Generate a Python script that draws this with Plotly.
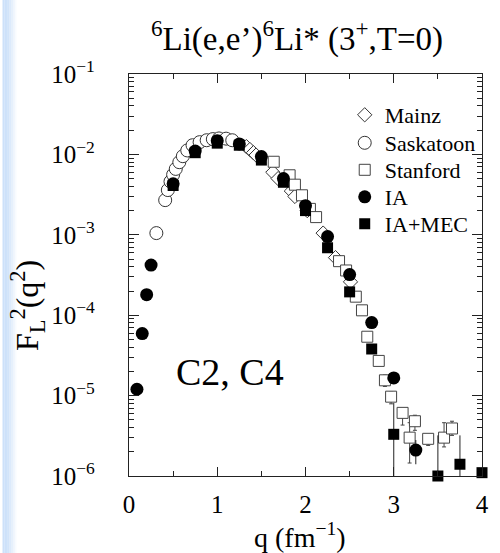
import plotly.graph_objects as go

# ---------------- data ----------------
mainz_q = [1.33, 1.37, 1.41, 1.44, 1.63, 1.69, 1.84, 1.88, 2.02, 2.20, 2.34, 2.51]
mainz_F = [1.25e-2, 1.15e-2, 1.05e-2, 9.8e-3, 6.0e-3, 5.0e-3, 3.5e-3, 3.0e-3, 2.0e-3, 1.05e-3, 5.2e-4, 2.6e-4]

sask_q = [0.31, 0.41, 0.44, 0.47, 0.50, 0.53, 0.57, 0.61, 0.66, 0.72, 0.80, 0.88, 0.95, 1.02, 1.10, 1.17]
sask_F = [1.05e-3, 2.7e-3, 3.6e-3, 4.6e-3, 5.6e-3, 6.6e-3, 8.0e-3, 9.5e-3, 1.12e-2, 1.3e-2,
          1.42e-2, 1.5e-2, 1.55e-2, 1.58e-2, 1.57e-2, 1.5e-2]

stan_q = [1.64, 1.82, 1.88, 1.96, 2.05, 2.12, 2.38, 2.46, 2.57, 2.64, 2.70, 2.83, 2.90, 2.97,
          3.10, 3.18, 3.24, 3.39, 3.57, 3.66]
stan_F = [8.1e-3, 5.5e-3, 4.2e-3, 3.1e-3, 2.1e-3, 1.66e-3, 4.7e-4, 3.6e-4, 1.7e-4, 1.15e-4,
          5.4e-5, 2.7e-5, 1.55e-5, 9.7e-6, 6.1e-6, 3.0e-6, 4.8e-6, 2.9e-6, 3.0e-6, 3.9e-6]
stan_hi = [None] * 12 + [1.8e-5, 1.12e-5, 6.9e-6, 4.6e-6, 5.7e-6, 3.2e-6, 4.6e-6, 4.8e-6]
stan_lo = [None] * 12 + [1.3e-5, 7.9e-6, 4.3e-6, 1.45e-6, 3.7e-6, 2.4e-6, 2.3e-6, 3.2e-6]

ia_q = [0.09, 0.15, 0.20, 0.25, 0.50, 0.75, 1.00, 1.25, 1.50, 1.75, 2.00, 2.25, 2.50, 2.75, 3.00, 3.25]
ia_F = [1.2e-5, 5.9e-5, 1.8e-4, 4.2e-4, 4.3e-3, 1.1e-2, 1.48e-2, 1.35e-2, 9.4e-3, 5.0e-3,
        2.3e-3, 9.5e-4, 3.2e-4, 8.1e-5, 1.66e-5, 2.1e-6]
ia_hi = [None] * 15 + [2.8e-6]
ia_lo = [None] * 15 + [1.4e-6]

mec_q = [0.50, 0.75, 1.00, 1.25, 1.50, 1.75, 2.00, 2.25, 2.50, 2.75, 3.00, 3.50, 3.75, 4.00]
mec_F = [4.1e-3, 1.05e-2, 1.38e-2, 1.3e-2, 8.5e-3, 4.5e-3, 2.0e-3, 6.9e-4, 1.95e-4, 3.8e-5,
         3.3e-6, 1.0e-6, 1.4e-6, 1.1e-6]
mec_hi = [None] * 10 + [8.1e-6, 3.2e-6, 3.2e-6, None]
mec_lo = [None] * 10 + [1.0e-6, 1.0e-6, 1.0e-6, None]

x_ticks = [0, 1, 2, 3, 4]
y_tickvals = [1e-6, 1e-5, 1e-4, 1e-3, 1e-2, 1e-1]
y_ticktext = ["10<sup>−6</sup>", "10<sup>−5</sup>", "10<sup>−4</sup>", "10<sup>−3</sup>",
              "10<sup>−2</sup>", "10<sup>−1</sup>"]

FONT = "Liberation Serif"


def errs(F, hi, lo):
    up = [(h - f) if h is not None else 0 for f, h in zip(F, hi)]
    dn = [(f - l) if l is not None else 0 for f, l in zip(F, lo)]
    return up, dn


# plot area in pixels (for placing text)
L, R, T, B = 129, 489, 74, 476
W, H = 500, 553


def px(x):
    return (x - L) / (R - L)


def py(y):
    return (B - y) / (B - T)


fig = go.Figure()

fig.add_trace(go.Scatter(
    x=mainz_q, y=mainz_F, mode="markers", name="Mainz", legend="legend",
    marker=dict(symbol="diamond", size=11, color="white", line=dict(color="#333", width=1))))

fig.add_trace(go.Scatter(
    x=sask_q, y=sask_F, mode="markers", name="Saskatoon", legend="legend2",
    marker=dict(symbol="circle", size=13, color="white", line=dict(color="#333", width=1))))

su, sd = errs(stan_F, stan_hi, stan_lo)
fig.add_trace(go.Scatter(
    x=stan_q, y=stan_F, mode="markers", name="Stanford", legend="legend3",
    error_y=dict(type="data", array=su, arrayminus=sd, symmetric=False,
                 color="#444", thickness=1, width=2),
    marker=dict(symbol="square", size=11, color="white", line=dict(color="#444", width=1))))

iu, idn = errs(ia_F, ia_hi, ia_lo)
fig.add_trace(go.Scatter(
    x=ia_q, y=ia_F, mode="markers", name="IA", legend="legend4",
    error_y=dict(type="data", array=iu, arrayminus=idn, symmetric=False,
                 color="#222", thickness=1, width=0),
    marker=dict(symbol="circle", size=13, color="black", line=dict(width=0))))

mu, md = errs(mec_F, mec_hi, mec_lo)
fig.add_trace(go.Scatter(
    x=mec_q, y=mec_F, mode="markers", name="IA+MEC", cliponaxis=False, legend="legend5",
    error_y=dict(type="data", array=mu, arrayminus=md, symmetric=False,
                 color="#222", thickness=1, width=0),
    marker=dict(symbol="square", size=11, color="black", line=dict(width=0))))

# light blue left edge of the page
shapes = []
for i, op in enumerate([1, 1, 1, 0.9, 0.7, 0.5, 0.3, 0.15]):
    shapes.append(dict(type="rect", xref="paper", yref="paper",
                       x0=px(i * 1.8), x1=px((i + 1) * 1.8), y0=py(W + 60), y1=py(0),
                       fillcolor="#cde1fa", opacity=op, line=dict(width=0), layer="below"))

annotations = [
    dict(text="<sup>6</sup>Li(e,e’)<sup>6</sup>Li* (3<sup>+</sup>,T=0)", x=px(300), y=py(36),
         xref="paper", yref="paper", showarrow=False, font=dict(size=33, family=FONT, color="black"),
         xanchor="center", yanchor="middle"),
    dict(text="C2, C4", x=px(232), y=py(372), xref="paper", yref="paper", showarrow=False,
         font=dict(size=38, family=FONT, color="black"), xanchor="center", yanchor="middle"),
    dict(text="q (fm<sup>−1</sup>)", x=px(303), y=py(535), xref="paper", yref="paper",
         showarrow=False, font=dict(size=28, family=FONT, color="black"),
         xanchor="center", yanchor="middle"),
    dict(text="F<sub>L</sub><sup>2</sup>(q<sup>2</sup>)", x=px(25), y=py(306), xref="paper",
         yref="paper", showarrow=False, textangle=-90,
         font=dict(size=32, family=FONT, color="black"), xanchor="center", yanchor="middle"),
]

legend_rows = [115, 143, 170, 197, 224]
legend_common = dict(xanchor="left", yanchor="middle", bgcolor="rgba(0,0,0,0)",
                     borderwidth=0, font=dict(size=22, family=FONT, color="black"))
legends = {}
for k, yrow in enumerate(legend_rows):
    key = "legend" if k == 0 else f"legend{k + 1}"
    legends[key] = dict(x=px(349), y=py(yrow), **legend_common)

fig.update_layout(
    width=W, height=H,
    margin=dict(l=L, r=W - R, t=T, b=H - B),
    paper_bgcolor="white", plot_bgcolor="white",
    font=dict(family=FONT, size=25, color="black"),
    showlegend=True,
    shapes=shapes,
    annotations=annotations,
    **legends,
)

fig.update_xaxes(
    range=[0, 4], showgrid=False, zeroline=False,
    showline=True, linecolor="#222", linewidth=1.3, mirror="ticks",
    ticks="inside", ticklen=9, tickwidth=1, tickcolor="#222",
    tickvals=x_ticks, ticktext=[str(v) for v in x_ticks],
    ticklabelstandoff=6,
    tickfont=dict(size=25, family=FONT, color="black"),
    minor=dict(dtick=0.5, ticks="inside", ticklen=5, tickwidth=1, tickcolor="#222", showgrid=False),
)

fig.update_yaxes(
    type="log", range=[-6, -1], showgrid=False, zeroline=False,
    showline=True, linecolor="#222", linewidth=1.3, mirror="ticks",
    ticks="inside", ticklen=10, tickwidth=1, tickcolor="#222",
    tickvals=y_tickvals, ticktext=y_ticktext,
    ticklabelstandoff=28,
    tickfont=dict(size=25, family=FONT, color="black"),
    minor=dict(dtick="D1", ticks="inside", ticklen=5, tickwidth=1, tickcolor="#222", showgrid=False),
)

fig.write_html("out.html")
